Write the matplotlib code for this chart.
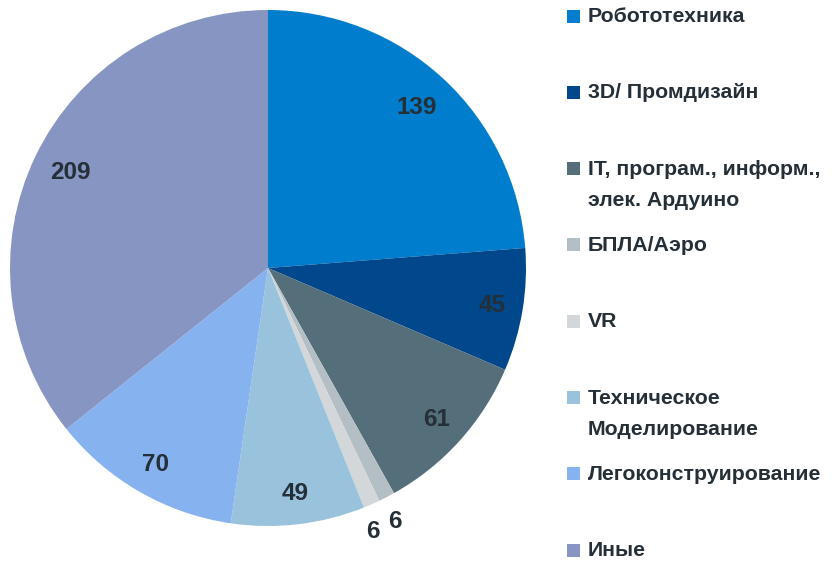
import matplotlib
matplotlib.use("Agg")
import matplotlib.pyplot as plt
from matplotlib.patches import Rectangle
import numpy as np

categories = ["Робототехника", "3D/ Промдизайн", "IT, програм., информ.,\nэлек. Ардуино",
              "БПЛА/Аэро", "VR", "Техническое\nМоделирование", "Легоконструирование", "Иные"]
values = [139, 45, 61, 6, 6, 49, 70, 209]
colors = ["#007DCC", "#00478C", "#546E7A", "#B4BFC5", "#D3D7D9", "#99C3DD", "#86B3F0", "#8795C2"]

txt_color = "#252F38"
fonts = ["Liberation Sans", "DejaVu Sans"]

fig = plt.figure(figsize=(8.32, 5.61), dpi=100)

# pie area in pixels: center (268,268), radius 258
cx, cy, r = 268, 268, 258
W, H = 832, 561
ax = fig.add_axes([(cx - r) / W, (H - cy - r) / H, 2 * r / W, 2 * r / H])
wedges, _ = ax.pie(values, colors=colors, startangle=90, counterclock=False,
                   wedgeprops=dict(linewidth=0))
ax.set_xlim(-1, 1)
ax.set_ylim(-1, 1)
ax.set_aspect("equal")
ax.axis("off")

# data labels
for i, (w, v) in enumerate(zip(wedges, values)):
    ang = np.deg2rad((w.theta1 + w.theta2) / 2)
    if v < 10:
        d = 1.1
        ang += np.deg2rad(-0.8 if i == 3 else -1.9)
    elif v > 100:
        d = 0.85
    else:
        d = 0.88
    ax.text(d * np.cos(ang), d * np.sin(ang), str(v), ha="center", va="center",
            fontsize=17.5, fontweight="bold", color=txt_color, family=fonts)

# legend in pixel coordinates
lg = fig.add_axes([0, 0, 1, 1])
lg.set_xlim(0, W)
lg.set_ylim(H, 0)
lg.axis("off")
for i, (name, c) in enumerate(zip(categories, colors)):
    y = 16 + i * 76.3
    lg.add_patch(Rectangle((567, y - 6.5), 13, 13, color=c, lw=0))
    lg.text(588, y - 9, name, ha="left", va="top", fontsize=15.3, fontweight="bold",
            color=txt_color, family=fonts, linespacing=1.85)

fig.savefig("out.png", dpi=100)
